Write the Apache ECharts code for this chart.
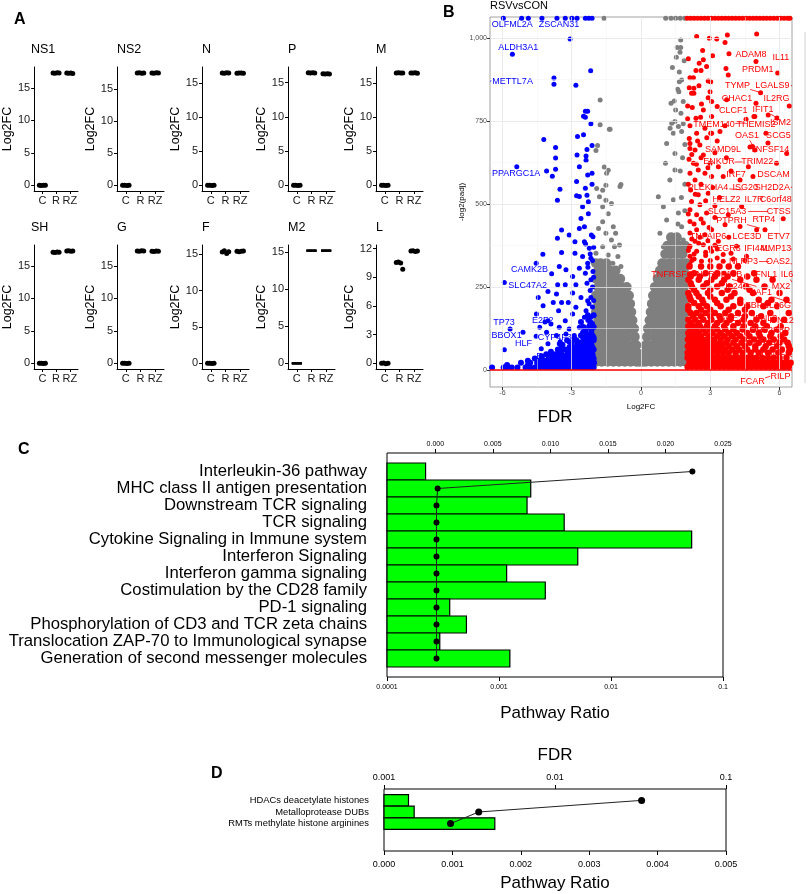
<!DOCTYPE html>
<html>
<head>
<meta charset="utf-8">
<script src="https://cdn.jsdelivr.net/npm/echarts@6/dist/echarts.min.js"></script>
<style>html,body{margin:0;padding:0;background:#fff}#main{width:809px;height:894px}</style>
</head>
<body>
<div id="main"></div>
<script>
// ---------- A : viral gene Log2FC (groups C, R, RZ) ----------
let geneTitles=["NS1","NS2","N","P","M","SH","G","F","M2","L"]
let groupNames=["C","R","RZ"]
let fcNS1=[[0.02,-0.03,0,0.03],[17.3,17.25,17.35,17.3],[17.3,17.25,17.3,17.2]]
let fcNS2=[[0,0.02,-0.02,0],[17.55,17.6,17.5,17.55],[17.55,17.5,17.6,17.55]]
let fcN=[[0,0.03,-0.03,0],[16.5,16.45,16.55,16.5],[16.45,16.5,16.5,16.45]]
let fcP=[[0,0.02,-0.02,0],[16.45,16.4,16.45,16.4],[16.3,16.25,16.3,16.25]]
let fcM=[[0,0.02,-0.02,0],[16.5,16.55,16.5,16.5],[16.5,16.5,16.55,16.45]]
let fcSH=[[0,0.02,-0.02,0.01],[17.1,17.05,17.15,17.1],[17.3,17.35,17.25,17.3]]
let fcG=[[0,0.02,-0.02,0],[17.3,17.25,17.35,17.3],[17.25,17.2,17.3,17.25]]
let fcF=[[0,0.03,-0.03,0],[15.3,15.5,15.1,15.35],[15.4,15.35,15.4,15.45]]
let fcM2=[[0,0,0,0],[15.2,15.2,15.2,15.2],[15.2,15.2,15.2,15.2]]
let fcL=[[0,0.05,-0.05,0.02],[10.55,10.6,10.5,9.85],[11.75,11.8,11.7,11.75]]
let fcList=[fcNS1,fcNS2,fcN,fcP,fcM,fcSH,fcG,fcF,fcM2,fcL]
let fcTicks=[[0,5,10,15],[0,5,10,15],[0,5,10,15],[0,5,10,15],[0,5,10,15],
             [0,5,10,15],[0,5,10,15],[0,5,10,15],[0,5,10,15],[0,3,6,9,12]]

// ---------- B : volcano RSVvsCON ----------
let volcanoXTicks=[-6,-3,0,3,6]
let volcanoYTicks=[0,250,500,750,1000]
// points with padj = 0 sit on the upper border
let topBlueX=[-5.96,-5.17,-4.88,-4.29,-3.64,-3.28,-2.99,-2.77,-2.41,-2.26,-2.12]
let topGrayX=[-1.6,1.07,1.3,1.5,1.7,1.9]
let topRedX=[2.0,2.15,2.3,2.45,2.6,2.75,2.9,3.05,3.2,3.35,3.5,3.65,3.8,3.95,4.1,4.25,4.4,4.55,4.7,4.85,5.0,5.15,5.3,5.45,5.6,5.75,5.9,6.05,6.2,6.35,6.45]
let topY=1060
let bluePts=[[-3.07,998],[-5.57,952],[-2.18,902],[-3.77,880],[-3.77,861],[-2.82,858],[-4.21,695],[-3.70,671],[-3.70,639],
 [-3.70,605],[-4.09,600],[-3.84,584],[-5.38,613],[-2.31,780],[-2.41,780],[-2.49,765],[-2.41,762],[-2.17,742],[-2.75,704],
 [-2.49,709],[-2.12,677],[-2.34,665],[-2.38,645],[-2.38,632],[-2.77,648],[-2.67,613],[-2.31,588],[-2.12,593],[-2.79,568],
 [-3.51,545],[-3.62,512],[-2.12,560],[-2.41,548],[-2.34,527],[-2.79,525],[-2.67,523],[-2.28,507],[-2.53,492],[-2.28,471],
 [-2.60,457],[-2.45,432],[-2.67,427],[-3.44,422],[-2.15,407],[-2.08,402],[-3.11,407],[-3.62,397],[-2.86,387],[-2.45,387],
 [-2.24,367],[-2.86,352],[-3.44,354],[-4.25,349],[-2.53,342],[-2.17,337],[-2.31,322],[-4.54,322],[-2.67,307],[-3.25,302],
 [-3.54,312],[-2.08,297],[-2.41,292],[-2.96,282],[-3.61,257],[-3.28,257],[-2.82,257],[-2.34,262],[-2.17,272],[-4.03,237],
 [-2.96,232],[-4.45,219],[-3.66,229],[-2.60,219],[-2.17,219],[-2.31,209],[-3.80,204],[-3.44,204],[-3.15,204],[-4.24,194],
 [-2.82,189],[-2.38,179],[-3.57,179],[-2.96,169],[-2.45,159],[-2.17,159],[-4.53,169],[-4.03,149],[-3.28,149],[-4.39,129],
 [-3.90,139],[-3.54,129],[-3.11,124],[-2.67,129],[-2.24,134],[-5.11,114],[-4.54,102],[-4.09,114],[-3.66,104],[-3.25,109],
 [-2.89,104],[-2.53,114],[-2.21,109],[-5.67,124],[-5.92,61],[-4.32,64],[-4.03,79],[-3.54,79],[-3.11,84],[-2.70,79],
 [-2.31,79],[-2.17,69],[-3.87,290],[-5.92,264],[-4.16,145],[-3.5,85],[-2.2,240],[-2.1,250],[-2.05,280],[-2.3,310],
 [-2.1,330],[-2.2,350],[-2.05,370],[-2.4,380],[-2.1,190],[-2.25,200],[-2.05,210],[-2.3,150],[-2.1,140],[-2.4,120],[-2.05,100]]
// dense bottom rows: [y, x1, x2, ...]
let blueRows=[
 [8,-6.45,-5.95,-5.8,-5.6,-5.35,-5.0,-4.8,-4.6,-4.45,-4.3,-4.15,-4.0,-3.85,-3.7,-3.55,-3.4,-3.25,-3.1,-2.95,-2.8,-2.65,-2.5,-2.35,-2.2,-2.05],
 [15,-5.8,-4.9,-4.4,-4.05,-3.75,-3.45,-3.15,-2.85,-2.55,-2.25,-2.08],
 [22,-5.2,-4.8,-4.5,-4.3,-4.1,-3.95,-3.8,-3.65,-3.5,-3.35,-3.2,-3.05,-2.9,-2.75,-2.6,-2.45,-2.3,-2.15,-2.03],
 [28,-4.9,-4.45,-4.15,-3.9,-3.55,-3.3,-3.0,-2.7,-2.4,-2.12],
 [35,-4.6,-4.3,-4.0,-3.8,-3.6,-3.4,-3.25,-3.1,-2.95,-2.8,-2.65,-2.5,-2.35,-2.2,-2.05],
 [42,-4.3,-3.9,-3.6,-3.35,-3.1,-2.9,-2.6,-2.3,-2.1],
 [48,-4.1,-3.7,-3.45,-3.2,-3.0,-2.85,-2.7,-2.55,-2.4,-2.25,-2.1],
 [55,-3.9,-3.5,-3.15,-2.95,-2.75,-2.45,-2.15],
 [62,-3.6,-3.3,-3.05,-2.85,-2.65,-2.5,-2.35,-2.2,-2.05],
 [69,-3.45,-3.1,-2.8,-2.6,-2.4,-2.1],
 [76,-3.4,-3.0,-2.75,-2.55,-2.35,-2.15],
 [83,-3.0,-2.65,-2.4,-2.2],
 [90,-3.2,-2.8,-2.45,-2.25,-2.05],
 [97,-2.9,-2.5,-2.3,-2.05],
 [104,-2.6,-2.35,-2.1],
 [118,-2.4,-2.15],
 [130,-2.5,-2.25,-2.05],
 [145,-2.6,-2.2],
 [165,-2.3,-2.05]]
let redPts=[[2.41,1005],[2.96,1000],[3.28,998],[3.74,1010],[3.64,987],[5.01,1013],[2.67,963],[3.10,947],[3.81,953],
 [2.05,938],[2.52,925],[2.70,935],[2.84,915],[2.38,903],[2.60,903],[3.68,909],[3.78,889],[2.12,881],[2.27,881],[2.91,871],
 [3.02,869],[2.09,851],[2.29,849],[2.51,857],[2.19,834],[2.29,834],[2.91,821],[2.99,839],[3.06,809],[2.02,796],[2.22,791],
 [2.62,802],[2.70,784],[3.30,794],[3.71,815],[6.42,796],[2.38,759],[2.58,762],[2.02,757],[3.06,764],[4.55,756],[4.93,764],
 [5.51,769],[2.12,736],[2.77,729],[3.64,736],[2.41,714],[3.02,714],[3.42,719],[5.41,714],[4.98,930],[5.92,895],[5.18,836],
 [4.98,804],[4.89,764],[5.89,760],
 [2.09,698],[2.12,683],[2.55,678],[3.06,714],[2.12,668],[2.34,663],[2.70,648],[2.08,635],[2.27,623],[2.99,623],[3.35,613],
 [2.48,603],[2.12,593],[2.77,593],[3.06,583],[2.34,573],[3.56,583],[4.29,573],[4.65,613],[5.87,623],[4.93,663],[6.31,653],
 [2.15,543],[2.48,528],[2.91,533],[2.19,508],[2.55,498],[4.36,493],[2.12,483],[2.41,468],[2.84,473],[3.78,468],[6.16,456],
 [2.12,448],[2.70,443],[3.64,438],[4.29,433],[2.41,423],[3.06,423],[5.37,423],[2.12,413],[2.77,408],[5.01,423],[2.34,388],
 [3.35,388],[2.12,373],[2.70,378],[4.14,373],[2.41,358],[3.06,358],[3.56,348],[2.12,343],[4.57,343],[2.62,328],[3.56,328],
 [2.12,318],[4.83,674],[5.5,684],[4.72,672],[4.85,583],
 [2.45,690],[2.85,700],[3.3,690],[2.2,650],[2.6,640],[3.2,655],[3.7,640],[2.4,620],[2.9,610],[3.9,600],[2.05,560],[2.6,560],
 [3.1,550],[3.4,520],[2.35,530],[2.8,510],[3.2,495],[2.05,470],[2.6,455],[3.2,460],[2.3,440],[2.95,430],[2.2,395],[2.55,400],
 [2.9,390],[3.8,400],[2.05,360],[2.8,355],[3.3,365],[2.3,335],[3.0,330],[4.0,335],
 [2.2,330],[2.8,345],[3.3,338],[4.5,330],[2.3,350],[3.0,368],[3.9,352],[2.1,370],[2.5,382],[3.2,376],[2.1,290],[3.6,292]]
let redRows=[
 [312,2.1,2.6,3.0,3.4,3.8,4.2],
 [292,2.3,2.8,3.3,4.0,4.9],
 [282,2.15,2.55,3.2,3.75,4.6],
 [272,2.05,2.5,3.05,3.6,4.3,5.0,5.7],
 [262,2.15,2.85,3.5],
 [252,2.2,2.7,3.3,3.85,4.55,5.35],
 [242,2.3,3.0,3.75,4.7],
 [232,2.05,2.4,2.9,3.5,4.05,4.85,6.0],
 [222,2.1,2.5,3.0,3.9],
 [212,2.15,2.65,3.2,3.7,4.3,5.1,5.65,6.3],
 [202,2.3,2.7,3.3,4.3,5.5],
 [192,2.05,2.5,2.85,3.45,4.0,4.6,5.3,5.9],
 [182,2.05,2.6,3.0,3.8,4.5],
 [172,2.15,2.4,2.8,3.2,3.65,4.2,4.8,5.6,6.4],
 [162,2.25,2.6,3.0,3.4,3.9,4.5,5.2],
 [152,2.05,2.35,2.7,3.05,3.45,3.85,4.45,5.0,5.75,6.2],
 [142,2.15,2.5,2.9,3.3,3.7,4.2,4.75,5.3],
 [132,2.05,2.3,2.55,2.85,3.2,3.6,4.0,4.45,4.95,5.45,6.05],
 [122,2.15,2.4,2.7,3.0,3.3,3.65,4.0,4.4,4.85,5.35,5.9],
 [112,2.05,2.25,2.5,2.8,3.1,3.45,3.8,4.15,4.6,5.1,5.65,6.25],
 [102,2.1,2.35,2.6,2.95,3.3,3.6,3.95,4.3,4.7,5.15,5.6,6.05],
 [92,2.03,2.2,2.4,2.65,2.85,3.15,3.45,3.75,4.1,4.45,4.9,5.3,5.75,6.2],
 [82,2.1,2.3,2.5,2.7,2.95,3.2,3.45,3.7,4.0,4.35,4.7,5.1,5.55,6.0,6.35],
 [72,2.03,2.15,2.35,2.55,2.75,3.0,3.25,3.5,3.8,4.15,4.5,4.95,5.4,5.9,6.4],
 [62,2.1,2.25,2.4,2.55,2.75,2.95,3.15,3.4,3.65,3.95,4.25,4.6,4.95,5.3,5.7,6.1,6.45],
 [52,2.02,2.15,2.3,2.45,2.65,2.85,3.05,3.3,3.55,3.8,4.1,4.4,4.75,5.1,5.5,5.95,6.4],
 [37,2.02,2.2,2.4,2.6,2.8,3.0,3.2,3.4,3.6,3.8,4.0,4.2,4.4,4.6,4.8,5.0,5.25,5.5,5.75,6.0,6.3],
 [22,2.1,2.3,2.5,2.7,2.9,3.1,3.3,3.5,3.7,3.9,4.1,4.3,4.5,4.7,4.9,5.1,5.3,5.5,5.7,5.9,6.1,6.3,6.48],
 [10,2.02,2.2,2.4,2.6,2.8,3.0,3.2,3.4,3.6,3.8,4.0,4.2,4.4,4.6,4.8,5.0,5.2,5.4,5.6,5.8,6.0,6.2,6.4]]
let grayPts=[[-1.77,814],[-1.77,739],[-1.34,726],[-1.88,677],[-1.95,662],[-1.59,612],[-1.42,602],[-0.87,559],[-1.92,547],
 [-1.66,542],[-1.52,557],[-1.80,522],[-1.52,512],[-1.66,492],[-1.42,471],[-1.28,502],[-1.66,447],[-1.20,432],[-1.84,427],
 [-1.52,412],[-1.10,412],[-1.28,392],[-0.93,377],[-1.66,372],[-1.15,372],[-1.95,352],[-1.42,347],[-1.0,342],[-1.59,322],
 [-1.22,322],[-0.87,312],[-1.37,726],[-0.91,553],[-1.49,593],
 [1.72,995],[1.57,972],[1.72,972],[1.69,958],[1.53,943],[1.87,932],[1.36,912],[1.66,898],[1.76,874],[1.66,869],[1.59,846],
 [1.64,839],[1.44,811],[1.30,804],[1.83,809],[1.50,784],[1.73,774],[1.47,749],[1.83,742],[1.26,729],[1.62,734],[1.40,714],
 [1.76,719],[1.33,744],[1.11,683],[1.47,653],[1.06,623],[1.47,603],[1.25,573],[0.75,522],[0.97,492],[1.40,513],[1.11,452],
 [1.62,473],[0.82,412],[1.33,392],[1.76,432],[0.97,372],[1.55,352],[1.83,392],[1.9,680],[1.8,640],[1.7,600],[1.9,560],
 [1.75,520],[1.9,480],[1.6,440]]
// dense core of the grey V
let grayRows=[
 [25,-1.95,-1.7,-1.45,-1.2,-0.95,-0.7,-0.45,-0.2,-0.07,0.07,0.2,0.45,0.7,0.95,1.2,1.45,1.7,1.95],
 [50,-1.85,-1.6,-1.35,-1.1,-0.85,-0.6,-0.35,-0.13,0.13,0.35,0.6,0.85,1.1,1.35,1.6,1.85],
 [75,-1.95,-1.7,-1.45,-1.2,-0.95,-0.7,-0.45,-0.2,0.2,0.45,0.7,0.95,1.2,1.45,1.7,1.95],
 [100,-1.85,-1.6,-1.35,-1.1,-0.85,-0.6,-0.27,0.26,0.6,0.85,1.1,1.35,1.6,1.85],
 [125,-1.95,-1.7,-1.45,-1.2,-0.95,-0.7,-0.45,-0.3,0.3,0.45,0.7,0.95,1.2,1.45,1.7,1.95],
 [150,-1.85,-1.6,-1.35,-1.1,-0.85,-0.6,-0.37,0.37,0.6,0.85,1.1,1.35,1.6,1.85],
 [175,-1.95,-1.7,-1.45,-1.2,-0.95,-0.7,-0.42,0.42,0.7,0.95,1.2,1.45,1.7,1.95],
 [200,-1.85,-1.6,-1.35,-1.1,-0.85,-0.6,-0.47,0.47,0.6,0.85,1.1,1.35,1.6,1.85],
 [225,-1.95,-1.7,-1.45,-1.2,-0.95,-0.7,-0.52,0.52,0.7,0.95,1.2,1.45,1.7,1.95],
 [250,-1.85,-1.6,-1.35,-1.1,-0.85,-0.62,0.6,0.85,1.1,1.35,1.6,1.85],
 [275,-1.95,-1.7,-1.45,-1.2,-0.9,0.72,0.95,1.2,1.45,1.7,1.95],
 [300,-1.85,-1.6,-1.35,-1.1,0.82,1.1,1.35,1.6,1.85],
 [322,-1.95,-1.75,-1.5,0.92,1.2,1.45,1.7,1.95],
 [350,1.05,1.3,1.55,1.8],
 [375,1.15,1.4,1.65,1.9],
 [400,1.3,1.55]]
// gene labels: name, label x, label y (repel positions)
let blueLabels=[["OLFML2A",-5.58,1040],["ZSCAN31",-3.55,1040],["ALDH3A1",-5.32,972],["METTL7A",-5.56,871],
 ["PPARGC1A",-5.41,591],["CAMK2B",-4.83,302],["SLC47A2",-4.91,255],["TP73",-5.93,143],["E2F2",-4.26,148],
 ["BBOX1",-5.82,103],["HLF",-5.09,79],["CYP4F3",-3.74,97],["EAF2",-4.05,40]]
let redLabels=[["ADAM8",4.76,950],["IL11",6.06,943],["PRDM1",5.06,905],["TYMP",4.18,857],["LGALS9",5.69,857],
 ["CHAC1",4.16,819],["IL2RG",5.87,819],["CLCF1",4.0,781],["IFIT1",5.28,784],["TMEM140",3.16,739],["THEMIS2",4.98,739],
 ["ISM2",6.04,745],["OAS1",4.59,706],["SCG5",5.95,706],["SAMD9L",3.55,666],["TNFSF14",5.58,666],["ENKUR",3.38,627],
 ["TRIM22",5.04,627],["IRF7",4.11,590],["DSCAM",5.74,590],["PLEKHA4",2.90,551],["ISG20",4.52,551],["SH2D2A",5.69,551],
 ["HELZ2",3.70,513],["IL7R",4.89,513],["C6orf48",5.84,513],["SLC15A3",3.72,478],["CTSS",5.97,478],["PTPRH",3.92,451],
 ["RTP4",5.32,453],["TNFAIP6",2.90,402],["LCE3D",4.59,402],["ETV7",5.97,402],["EGR3",3.79,365],["IFI44L",5.02,365],
 ["MMP13",5.84,365],["NLRP3",4.44,327],["OAS2",5.93,327],["TNFRSF4",1.32,287],["TNFRSF13B",3.27,287],["IFNL1",5.37,287],
 ["IL6",6.32,287],["IL24",4.03,252],["MX2",6.06,252],["XAF1",5.19,233],["ZBP1",5.0,194],["IL36G",5.97,194],
 ["ACE2",3.92,154],["IFNL3",5.37,154],["IFNL2",6.08,149],["OR52K3P",5.58,119],["IFNB1",5.50,84],["TMM22",5.80,52],
 ["RILP",6.04,-19],["FCAR",4.83,-34]]
// gene points that labels point to
let labelAnchor={TYMP:[5.2,836],LGALS9:[6.54,857],IL11:[6.54,943],IFIT1:[5.9,760],TMEM140:[4.5,745],OAS1:[4.85,676],
 ENKUR:[4.4,627],PLEKHA4:[4.4,543],SH2D2A:[6.54,551],C6orf48:[6.54,513],SLC15A3:[5.5,478],PTPRH:[5.15,428],
 MMP13:[6.54,365],NLRP3:[5.55,327],OAS2:[6.54,320],TNFRSF13B:[5.0,252],IL6:[6.54,265],XAF1:[6.52,202],
 IL36G:[6.54,180],IFNL2:[6.54,140],IFNB1:[6.52,79],TMM22:[6.54,40],FCAR:[5.6,-19],RILP:[6.54,-5],
 OLFML2A:[-5.2,1060],METTL7A:[-6.54,871]}

// ---------- C : Reactome pathways ----------
let pathwayNames=["Interleukin-36 pathway","MHC class II antigen presentation","Downstream TCR signaling","TCR signaling",
 "Cytokine Signaling in Immune system","Interferon Signaling","Interferon gamma signaling","Costimulation by the CD28 family",
 "PD-1 signaling","Phosphorylation of CD3 and TCR zeta chains","Translocation ZAP-70 to Immunological synapse",
 "Generation of second messenger molecules"]
let pathwayRatio=[0.000221,0.00192,0.00178,0.00382,0.0525,0.00505,0.00117,0.00259,0.000363,0.000512,0.000296,0.00125]
let pathwayFDR=[0.02234,0.0002,0.0001,0.0001,0.0001,0.0001,0.0001,0.0001,0.0001,0.0001,0.0001,0.0001]
let fdrTicksC=[0,0.005,0.01,0.015,0.02,0.025]

// ---------- D ----------
let pathwayNamesD=["HDACs deacetylate histones","Metalloprotease DUBs","RMTs methylate histone arginines"]
let pathwayRatioD=[0.000358,0.000441,0.00162]
let pathwayFDRD=[0.0321,0.00358,0.00245]

// ================= build option =================
const FONT='"Liberation Sans", Arial, sans-serif'
let grids=[], xAxes=[], yAxes=[], series=[], titles=[]
let jitter=[-0.22,-0.08,0.08,0.22]
let colLeft=[31,117,202,288,376], rowTop=[67,245]

function expandRows(rows){
    let out=[]
    rows.forEach(r=>{ for(let k=1;k<r.length;k++) out.push([r[k],r[0]]) })
    return out
}

// panel A
for(let i=0;i<10;i++){
    let r=Math.floor(i/5), c=i%5
    grids.push({left:colLeft[c],top:rowTop[r],width:47,height:124})
    let vmax=Math.max(...fcList[i].flat())
    xAxes.push({gridIndex:i,type:'value',min:0.4,max:3.6,
        axisLine:{onZero:false,lineStyle:{color:'#000',width:1}},
        axisTick:{customValues:[1,2,3],length:3,lineStyle:{color:'#000'}},
        axisLabel:{customValues:[1,2,3],formatter:v=>groupNames[Math.round(v)-1],color:'#1a1a1a',fontSize:11,fontFamily:FONT,margin:4},
        splitLine:{show:false}})
    yAxes.push({gridIndex:i,type:'value',min:-0.05*vmax,max:1.05*vmax,
        name:'Log2FC',nameLocation:'middle',nameGap:18,nameRotate:90,
        nameTextStyle:{fontSize:12.5,fontFamily:FONT,color:'#000'},
        axisLine:{show:true,onZero:false,lineStyle:{color:'#000',width:1}},
        axisTick:{show:true,customValues:fcTicks[i],length:3,lineStyle:{color:'#000'}},
        axisLabel:{customValues:fcTicks[i],color:'#1a1a1a',fontSize:11,fontFamily:FONT,margin:4},
        splitLine:{show:false}})
    let pts=[]
    fcList[i].forEach((grp,g)=>grp.forEach((v,k)=>pts.push([g+1+(i==8?0:jitter[k]),v])))
    series.push({type:'scatter',xAxisIndex:i,yAxisIndex:i,data:pts,
        symbol:i==8?'rect':'circle',symbolSize:i==8?[10,2]:5,itemStyle:{color:'#000',opacity:1},silent:true})
    titles.push({text:geneTitles[i],left:colLeft[c],top:rowTop[r]-24,padding:0,
        textStyle:{fontSize:12.5,fontWeight:'normal',fontFamily:FONT,color:'#000'}})
}
titles.push({text:'A',left:14,top:12,padding:0,textStyle:{fontSize:16,fontWeight:'bold',fontFamily:FONT,color:'#000'}})

// panel B
const gB=10
grids.push({left:490,top:17,width:302,height:370,show:true,borderColor:'#8c8c8c',borderWidth:0.8,backgroundColor:'#fff'})
xAxes.push({gridIndex:gB,type:'value',min:-6.54,max:6.54,
    name:'Log2FC',nameLocation:'middle',nameGap:16,nameTextStyle:{fontSize:8,fontFamily:FONT,color:'#000'},
    axisLine:{show:false,onZero:false},axisTick:{customValues:volcanoXTicks,length:3,lineStyle:{color:'#333'}},
    axisLabel:{customValues:volcanoXTicks,fontSize:7,color:'#4d4d4d',fontFamily:FONT,margin:3},splitLine:{show:false}})
yAxes.push({gridIndex:gB,type:'value',min:-51,max:1064,
    name:'-log2(padj)',nameLocation:'middle',nameGap:21,nameRotate:90,nameTextStyle:{fontSize:8,fontFamily:FONT,color:'#000'},
    axisLine:{show:false,onZero:false},axisTick:{show:true,customValues:volcanoYTicks,length:3,lineStyle:{color:'#333'}},
    axisLabel:{customValues:volcanoYTicks,fontSize:7,color:'#4d4d4d',fontFamily:FONT,margin:3},splitLine:{show:false}})
let gridLinesB=[]
volcanoXTicks.forEach(v=>gridLinesB.push({xAxis:v,lineStyle:{color:'#e6e6e6',width:0.8,type:'solid'}}))
;[-4.5,-1.5,1.5,4.5].forEach(v=>gridLinesB.push({xAxis:v,lineStyle:{color:'#f3f3f3',width:0.5,type:'solid'}}))
volcanoYTicks.forEach(v=>gridLinesB.push({yAxis:v,lineStyle:{color:'#e6e6e6',width:0.8,type:'solid'}}))
;[125,375,625,875].forEach(v=>gridLinesB.push({yAxis:v,lineStyle:{color:'#f3f3f3',width:0.5,type:'solid'}}))
series.push({type:'scatter',xAxisIndex:gB,yAxisIndex:gB,data:[],z:1,silent:true,
    markLine:{silent:true,symbol:['none','none'],label:{show:false},animation:false,data:gridLinesB}})
let volcanoSets=[
    {data:grayPts.concat(topGrayX.map(x=>[x,topY])),color:'#7f7f7f',size:5},
    {data:expandRows(grayRows),color:'#7f7f7f',size:10},
    {data:bluePts.concat(topBlueX.map(x=>[x,topY])),color:'#0000ff',size:5},
    {data:expandRows(blueRows),color:'#0000ff',size:6},
    {data:redPts.concat(topRedX.map(x=>[x,topY])),color:'#ff0000',size:5},
    {data:expandRows(redRows),color:'#ff0000',size:6.5}]
volcanoSets.forEach(s=>series.push({type:'scatter',xAxisIndex:gB,yAxisIndex:gB,data:s.data,symbolSize:s.size,
    itemStyle:{color:s.color,opacity:1},z:3,silent:true,animation:false}))
series.push({type:'scatter',xAxisIndex:gB,yAxisIndex:gB,data:[],z:6,silent:true,
    markLine:{silent:true,symbol:['none','none'],label:{show:false},animation:false,
        data:[{yAxis:0,lineStyle:{color:'#ff0000',width:1.5,type:'solid'}}]}})
function geneLabelItem(list,color){
    return function(params,api){
        let d=list[params.dataIndex]
        let p=api.coord([d[1],d[2]])
        let kids=[]
        let a=labelAnchor[d[0]]
        if(a){
            let q=api.coord(a)
            let dx=q[0]-p[0], dy=q[1]-p[1]
            let hw=d[0].length*2.9+1, hh=4.5
            let t=Math.min(dx?hw/Math.abs(dx):Infinity, dy?hh/Math.abs(dy):Infinity)
            if(t<1) kids.push({type:'line',shape:{x1:p[0]+dx*t,y1:p[1]+dy*t,x2:q[0],y2:q[1]},style:{stroke:color,lineWidth:0.8}})
        }
        kids.push({type:'text',x:p[0],y:p[1],style:{text:d[0],fill:color,font:'9px '+FONT,align:'center',verticalAlign:'middle'}})
        return {type:'group',children:kids}
    }
}
series.push({type:'custom',xAxisIndex:gB,yAxisIndex:gB,z:8,silent:true,clip:false,
    data:blueLabels.map(d=>[d[1],d[2]]),renderItem:geneLabelItem(blueLabels,'#0000ff')})
series.push({type:'custom',xAxisIndex:gB,yAxisIndex:gB,z:8,silent:true,clip:false,
    data:redLabels.map(d=>[d[1],d[2]]),renderItem:geneLabelItem(redLabels,'#ff0000')})
titles.push({text:'B',left:443,top:5,padding:0,textStyle:{fontSize:16,fontWeight:'bold',fontFamily:FONT,color:'#000'}})
titles.push({text:'RSVvsCON',left:490,top:0,padding:0,textStyle:{fontSize:11,fontWeight:'normal',fontFamily:FONT,color:'#000'}})

// bars + labels for C and D
function pathwayBarItem(names,x0,font,gap){
    return function(params,api){
        let v=api.value(0), y=api.value(1)
        let pL=api.coord([x0,y]), pR=api.coord([v,y])
        let h=Math.abs(api.coord([x0,y+0.5])[1]-api.coord([x0,y-0.5])[1])
        return {type:'group',children:[
            {type:'rect',shape:{x:pL[0],y:pL[1]-h/2,width:pR[0]-pL[0],height:h},style:{fill:'#00ff00',stroke:'#000',lineWidth:1.2}},
            {type:'text',x:pL[0]-gap,y:pL[1],style:{text:names[params.dataIndex],fill:'#000',font:font,align:'right',verticalAlign:'middle'}}
        ]}
    }
}

// panel C
const gC=11
grids.push({left:387,top:453,width:336,height:224,show:true,borderColor:'#000',borderWidth:1,backgroundColor:'#fff'})
xAxes.push({gridIndex:gC,type:'log',logBase:10,min:0.0001,max:0.1,position:'bottom',
    name:'Pathway Ratio',nameLocation:'middle',nameGap:28,nameTextStyle:{fontSize:17,fontFamily:FONT,color:'#000'},
    axisLine:{show:false,onZero:false},axisTick:{show:true,length:4,lineStyle:{color:'#000'}},
    axisLabel:{fontSize:7,color:'#000',fontFamily:FONT,margin:7,formatter:v=>String(Number(v.toPrecision(1)))},
    splitLine:{show:false},minorTick:{show:false}})
xAxes.push({gridIndex:gC,type:'value',min:-0.0042,max:0.025,position:'top',
    name:'FDR',nameLocation:'middle',nameGap:27,nameTextStyle:{fontSize:17,fontFamily:FONT,color:'#000'},
    axisLine:{show:false,onZero:false},axisTick:{show:true,customValues:fdrTicksC,length:4,lineStyle:{color:'#000'}},
    axisLabel:{customValues:fdrTicksC,fontSize:7,color:'#000',fontFamily:FONT,margin:5,formatter:v=>v.toFixed(3)},
    splitLine:{show:false}})
yAxes.push({gridIndex:gC,type:'value',inverse:true,min:-1.088,max:12.088,show:false,axisLine:{onZero:false}})
series.push({type:'custom',xAxisIndex:11,yAxisIndex:gC,clip:false,silent:true,z:2,
    data:pathwayRatio.map((v,i)=>[v,i]),renderItem:pathwayBarItem(pathwayNames,0.0001,'16.7px '+FONT,20)})
series.push({type:'line',xAxisIndex:12,yAxisIndex:gC,data:pathwayFDR.map((v,i)=>[v,i]),z:4,silent:true,
    symbol:'circle',symbolSize:6,itemStyle:{color:'#000'},lineStyle:{color:'#222',width:1},animation:false})
titles.push({text:'C',left:18,top:442,padding:0,textStyle:{fontSize:16,fontWeight:'bold',fontFamily:FONT,color:'#000'}})

// panel D
const gD=12
grids.push({left:384,top:789,width:342,height:62,show:true,borderColor:'#000',borderWidth:1,backgroundColor:'#fff'})
xAxes.push({gridIndex:gD,type:'value',min:0,max:0.005,interval:0.001,position:'bottom',
    name:'Pathway Ratio',nameLocation:'middle',nameGap:24,nameTextStyle:{fontSize:17,fontFamily:FONT,color:'#000'},
    axisLine:{show:false,onZero:false},axisTick:{show:true,length:4,lineStyle:{color:'#000'}},
    axisLabel:{fontSize:9,color:'#000',fontFamily:FONT,margin:9,formatter:v=>v.toFixed(3)},splitLine:{show:false}})
xAxes.push({gridIndex:gD,type:'log',logBase:10,min:0.001,max:0.1,position:'top',
    name:'FDR',nameLocation:'middle',nameGap:25,nameTextStyle:{fontSize:17,fontFamily:FONT,color:'#000'},
    axisLine:{show:false,onZero:false},axisTick:{show:true,length:4,lineStyle:{color:'#000'}},
    axisLabel:{fontSize:9,color:'#000',fontFamily:FONT,margin:7,formatter:v=>String(Number(v.toPrecision(1)))},
    splitLine:{show:false},minorTick:{show:false}})
yAxes.push({gridIndex:gD,type:'value',inverse:true,min:-0.98,max:4.36,show:false,axisLine:{onZero:false}})
series.push({type:'custom',xAxisIndex:13,yAxisIndex:gD,clip:false,silent:true,z:2,
    data:pathwayRatioD.map((v,i)=>[v,i]),renderItem:pathwayBarItem(pathwayNamesD,0,'9.4px '+FONT,15)})
series.push({type:'line',xAxisIndex:14,yAxisIndex:gD,data:pathwayFDRD.map((v,i)=>[v,i]),z:4,silent:true,
    symbol:'circle',symbolSize:7,itemStyle:{color:'#000'},lineStyle:{color:'#222',width:1},animation:false})
titles.push({text:'D',left:211,top:766,padding:0,textStyle:{fontSize:16,fontWeight:'bold',fontFamily:FONT,color:'#000'}})

let chart=echarts.init(document.getElementById('main'))
chart.setOption({
    backgroundColor:'#fff',
    animation:false,
    title:titles,
    grid:grids,
    xAxis:xAxes,
    yAxis:yAxes,
    series:series,
    graphic:[{type:'line',shape:{x1:805,y1:32,x2:805,y2:383},style:{stroke:'#d0d0d0',lineWidth:1},silent:true}]
})
</script>
</body>
</html>
